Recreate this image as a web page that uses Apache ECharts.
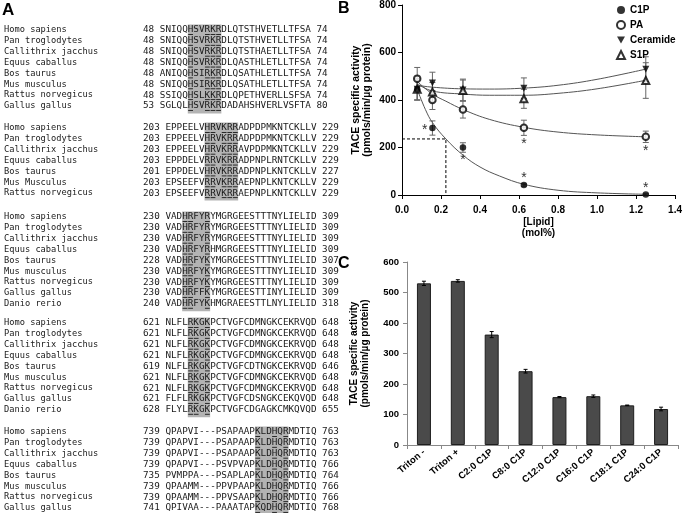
<!DOCTYPE html>
<html><head><meta charset="utf-8">
<script src="https://cdn.jsdelivr.net/npm/echarts@6/dist/echarts.min.js"></script>
<style>html,body{margin:0;padding:0;background:#fff}#c{width:685px;height:513px}</style>
</head><body><div id="c"></div>
<script>
// ---------------- Panel A : alignment data ----------------
const names1 = ['Homo sapiens','Pan troglodytes','Callithrix jacchus','Equus caballus','Bos taurus','Mus musculus','Rattus norvegicus','Gallus gallus'];
const start1 = [48,48,48,48,48,48,48,53];
const seq1 = ['SNIQQHSVRKRDLQTSTHVETLLTFSA','SNIQQHSVRKRDLQTSTHVETLLTFSA','SNIQQHSVRKRDLQTSTHAETLLTFSA','SNIQQHSVRKRDLQASTHLETLLTFSA','ANIQQHSIRKRDLQSATHLETLLTFSA','SNIQQHSIRKRDLQSATHLETLLTFSA','SSIQQHSLKKRDLQPETHVERLLSFSA','SGLQLHSVRKRDADAHSHVERLVSFTA'];
const end1 = [74,74,74,74,74,74,74,80];
const box1 = [5,10]; const ul1 = [5,8,9,10];

const names2 = ['Homo sapiens','Pan troglodytes','Callithrix jacchus','Equus caballus','Bos taurus','Mus Musculus','Rattus norvegicus'];
const start2 = [203,203,203,203,201,203,203];
const seq2 = ['EPPEELVHRVKRRADPDPMKNTCKLLV','EPPEELVHRVKRRADPDPMKNTCKLLV','EPPEELVHRVKRRAVPDPMKNTCKLLV','EPPDELVRRVKRRADPNPLRNTCKLLV','EPPDELVHRVKRRADPNPLKNTCKLLV','EPSEEFVRRVKRRAEPNPLKNTCKLLV','EPSEEFVRRVKRRAEPNPLKNTCKLLV'];
const end2 = [229,229,229,229,227,229,229];
const box2 = [7,12]; const ul2 = [7,8,10,11,12];

const names3 = ['Homo sapiens','Pan troglodytes','Callithrix jacchus','Equus caballus','Bos taurus','Mus musculus','Rattus norvegicus','Gallus gallus','Danio rerio'];
const start3 = [230,230,230,230,228,230,230,230,240];
const seq3 = ['VADHRFYRYMGRGEESTTTNYLIELID','VADHRFYRYMGRGEESTTTNYLIELID','VADHRFYRYMGRGEESTTTNYLIELID','VADHRFYRHMGRGEESTTTNYLIELID','VADHRFYKYMGRGEESTTTNYLIELID','VADHRFYKYMGRGEESTTTNYLIELID','VADHRFYKYMGRGEESTTTNYLIELID','VADHRFFKYMGRGEESTTINYLIELID','VADHRFYKHMGRAEESTTLNYLIELID'];
const end3 = [309,309,309,309,307,309,309,309,318];
const box3 = [3,7]; const ul3 = [3,4,7];

const names4 = ['Homo sapiens','Pan troglodytes','Callithrix jacchus','Equus caballus','Bos taurus','Mus musculus','Rattus norvegicus','Gallus gallus','Danio rerio'];
const start4 = [621,621,621,621,619,621,621,621,628];
const seq4 = ['NLFLRKGKPCTVGFCDMNGKCEKRVQD','NLFLRKGKPCTVGFCDMNGKCEKRVQD','NLFLRKGKPCTVGFCDMNGKCEKRVQD','NLFLRKGKPCTVGFCDMNGKCEKRVQD','NLFLRKGKPCTVGFCDTNGKCEKRVQD','NLFLRKGKPCTVGFCDMNGKCEKRVQD','NLFLRKGKPCTVGFCDMNGKCEKRVQD','FLFLRKGKPCTVGFCDSNGKCEKQVQD','FLYLRKGKPCTVGFCDGAGKCMKQVQD'];
const end4 = [648,648,648,648,646,648,648,648,655];
const box4 = [4,7]; const ul4 = [4,5,7];

const names5 = ['Homo sapiens','Pan troglodytes','Callithrix jacchus','Equus caballus','Bos taurus','Mus musculus','Rattus norvegicus','Gallus gallus'];
const start5 = [739,739,739,739,735,739,739,741];
const seq5 = ['QPAPVI---PSAPAAPKLDHQRMDTIQ','QPAPVI---PSAPAAPKLDHQRMDTIQ','QPAPVI---PSAPAAPKLDHQRMDTIQ','QPAPVI---PSVPVAPKLDHQRMDTIQ','PVMPPA---PSAPLAPKLDHQRMDTIQ','QPAAMM---PPVPAAPKLDHQRMDTIQ','QPAAMM---PPVSAAPKLDHQRMDTIQ','QPIVAA---PAAATAPKQDHQRMDTIQ'];
const end5 = [763,763,763,766,764,766,766,768];
const box5 = [16,21]; const ul5 = [16,19,21];

// ---------------- Panel B data ----------------
const lipidX = [0.078, 0.156, 0.3125, 0.625, 1.25];
const c1pVals = [445, 282, 200, 42, 2];
const c1pErr  = [45, 30, 20, 5, 3];
const paVals  = [490, 400, 360, 283, 245];
const paErr   = [47, 40, 36, 32, 24];
const cerVals = [445, 472, 442, 450, 530];
const cerErr  = [45, 45, 46, 43, 52];
const s1pVals = [445, 434, 440, 405, 482];
const s1pErr  = [45, 40, 44, 40, 75];
// fitted curves
const c1pFitX = [0.078, 0.12, 0.156, 0.225, 0.3125, 0.4, 0.5, 0.625, 0.8, 1.0, 1.25];
const c1pFitY = [445, 360, 305, 236, 168, 118, 80, 45, 20, 9, 3];
const paFitX  = [0.078, 0.156, 0.225, 0.3125, 0.45, 0.625, 0.8, 1.0, 1.25];
const paFitY  = [478, 425, 395, 360, 318, 285, 265, 253, 245];
const cerFitX = [0.078, 0.156, 0.3125, 0.45, 0.625, 0.8, 1.0, 1.25];
const cerFitY = [462, 454, 447, 446, 450, 462, 487, 530];
const s1pFitX = [0.078, 0.156, 0.3125, 0.45, 0.625, 0.8, 1.0, 1.25];
const s1pFitY = [468, 438, 425, 420, 420, 428, 447, 483];
const dashX = [0, 0.225, 0.225];
const dashY = [236, 236, 0];
const starX = [0.117, 0.3125, 0.625, 0.625, 1.25, 1.25];
const starY = [286, 160, 82, 225, 198, 40];
const legendNames = ['C1P', 'PA', 'Ceramide', 'S1P'];

// ---------------- Panel C data ----------------
const cCats = ['Triton -','Triton +','C2:0 C1P','C8:0 C1P','C12:0 C1P','C16:0 C1P','C18:1 C1P','C24:0 C1P'];
const cVals = [530, 538, 362, 242, 157, 160, 130, 118];
const cErr  = [7, 4, 10, 6, 2, 4, 1, 6];

// ---------------- build ----------------
const SANS = '"Liberation Sans", Arial, sans-serif';
const MONO = '"DejaVu Sans Mono", "Liberation Mono", monospace';
const nameFont = '8.7px ' + MONO;
const seqFont = '9.3px ' + MONO;
const mctx = document.createElement('canvas').getContext('2d');
mctx.font = seqFont;
const cw = mctx.measureText('MMMMMMMMMM').width / 10;

const blocks = [
  {n:names1,s:start1,q:seq1,e:end1,b:box1,u:ul1},
  {n:names2,s:start2,q:seq2,e:end2,b:box2,u:ul2},
  {n:names3,s:start3,q:seq3,e:end3,b:box3,u:ul3},
  {n:names4,s:start4,q:seq4,e:end4,b:box4,u:ul4},
  {n:names5,s:start5,q:seq5,e:end5,b:box5,u:ul5}
];
const blockTop = [30, 128, 217, 323, 432];
const rowPitch = 10.85;
const numX = 143;
const gfx = [];
function txt(t, x, y, font, fill, align){
  return {type:'text', silent:true, z:10, style:{text:t, x:x, y:y, font:font, fill:fill||'#1a1a1a',
    align:align||'left', verticalAlign:'middle', textAlign:align||'left', textVerticalAlign:'middle'}};
}
blocks.forEach((b, bi) => {
  const seqX = numX + (String(b.s[0]).length + 1) * cw;
  const y0 = blockTop[bi];
  const yN = y0 + (b.n.length - 1) * rowPitch;
  gfx.push({type:'rect', silent:true, z:1, shape:{x:seqX + b.b[0]*cw, y:y0 - 5.5, width:(b.b[1]-b.b[0]+1)*cw, height:yN - y0 + 13},
    style:{fill:'#b3b3b3'}});
  b.n.forEach((nm, i) => {
    const y = y0 + i * rowPitch;
    gfx.push(txt(nm, 4, y, nameFont));
    gfx.push(txt(b.s[i] + ' ' + b.q[i] + ' ' + b.e[i], numX, y, seqFont));
    b.u.forEach(k => {
      gfx.push({type:'line', silent:true, z:11, shape:{x1:seqX + k*cw + 0.4, y1:y + 4.5, x2:seqX + (k+1)*cw - 0.4, y2:y + 4.5},
        style:{stroke:'#1a1a1a', lineWidth:0.9}});
    });
  });
});
gfx.push(txt('A', 2, 10, 'bold 17px ' + SANS, '#000'));
gfx.push(txt('B', 338, 9, 'bold 16px ' + SANS, '#000'));
gfx.push(txt('C', 338, 264, 'bold 16px ' + SANS, '#000'));

const zip = (xs, ys) => xs.map((x, i) => [x, ys[i]]);
const errData = (xs, ys, es) => xs.map((x, i) => [x, ys[i] - es[i], ys[i] + es[i]]);

function errRender(color, cap){
  return function(params, api){
    const x = api.value(0), lo = api.value(1), hi = api.value(2);
    const p1 = api.coord([x, lo]), p2 = api.coord([x, hi]);
    const st = {stroke:color, lineWidth:1};
    return {type:'group', children:[
      {type:'line', shape:{x1:p1[0], y1:p1[1], x2:p2[0], y2:p2[1]}, style:st},
      {type:'line', shape:{x1:p1[0]-cap, y1:p1[1], x2:p1[0]+cap, y2:p1[1]}, style:st},
      {type:'line', shape:{x1:p2[0]-cap, y1:p2[1], x2:p2[0]+cap, y2:p2[1]}, style:st}
    ]};
  };
}
const fitLine = (name, xs, ys) => ({name:name, type:'line', xAxisIndex:0, yAxisIndex:0, data:zip(xs, ys), smooth:0.4,
  showSymbol:false, symbol:'none', silent:true, z:2, lineStyle:{color:'#555', width:1}});

const labelB = {color:'#000', fontFamily:SANS, fontWeight:'bold', fontSize:10};
const labelC = {color:'#000', fontFamily:SANS, fontWeight:'bold', fontSize:9.5};
const downTri = 'path://M0,0 L10,0 L5,9 Z';

const option = {
  animation:false,
  backgroundColor:'#fff',
  graphic:{elements:gfx},
  legend:{
    data:[
      {name:legendNames[0], icon:'circle'},
      {name:legendNames[1], icon:'emptyCircle'},
      {name:legendNames[2], icon:downTri},
      {name:legendNames[3], icon:'emptyTriangle'}
    ],
    orient:'vertical', left:616, top:5, itemWidth:8, itemHeight:8, itemGap:5,
    itemStyle:{borderWidth:1},
    padding:0, textStyle:{color:'#000', fontFamily:SANS, fontWeight:'bold', fontSize:10}
  },
  grid:[
    {left:402, top:5, width:275, height:190},
    {left:407, top:262, width:271, height:183}
  ],
  xAxis:[
    {type:'value', gridIndex:0, min:0, max:1.4, interval:0.2,
      axisLine:{show:true, lineStyle:{color:'#000', width:1}}, axisTick:{show:true, length:4, lineStyle:{color:'#000'}},
      splitLine:{show:false}, axisLabel:Object.assign({margin:10, formatter:v => v.toFixed(1)}, labelB),
      name:'[Lipid]\n(mol%)', nameLocation:'middle', nameGap:22,
      nameTextStyle:{color:'#000', fontFamily:SANS, fontWeight:'bold', fontSize:10, lineHeight:11}},
    {type:'category', gridIndex:1, data:cCats,
      axisLine:{show:true, lineStyle:{color:'#888', width:1}}, axisTick:{show:true, length:4, alignWithLabel:false, lineStyle:{color:'#888'}},
      axisLabel:Object.assign({rotate:40, interval:0, margin:6}, labelC)}
  ],
  yAxis:[
    {type:'value', gridIndex:0, min:0, max:800, interval:200,
      axisLine:{show:true, lineStyle:{color:'#000', width:1}}, axisTick:{show:true, length:4, lineStyle:{color:'#000'}},
      splitLine:{show:false}, axisLabel:Object.assign({margin:6}, labelB),
      name:'TACE specific activity\n(pmols/min/\u00b5g protein)', nameLocation:'middle', nameGap:29, nameRotate:90,
      nameTextStyle:{color:'#000', fontFamily:SANS, fontWeight:'bold', fontSize:10.5, lineHeight:11}},
    {type:'value', gridIndex:1, min:0, max:600, interval:100,
      axisLine:{show:true, lineStyle:{color:'#888', width:1}}, axisTick:{show:true, length:4, lineStyle:{color:'#888'}},
      splitLine:{show:false}, axisLabel:Object.assign({margin:8}, labelC),
      name:'TACE specific activity\n(pmols/min/\u00b5g protein)', nameLocation:'middle', nameGap:36, nameRotate:90,
      nameTextStyle:{color:'#000', fontFamily:SANS, fontWeight:'bold', fontSize:10, lineHeight:11}}
  ],
  series:[
    fitLine('C1P fit', c1pFitX, c1pFitY),
    fitLine('PA fit', paFitX, paFitY),
    fitLine('Ceramide fit', cerFitX, cerFitY),
    fitLine('S1P fit', s1pFitX, s1pFitY),
    {name:'IC50', type:'line', xAxisIndex:0, yAxisIndex:0, data:zip(dashX, dashY), symbol:'none', silent:true, z:2,
      lineStyle:{color:'#000', width:1, type:[3,2]}},
    {name:'errB', type:'custom', xAxisIndex:0, yAxisIndex:0, silent:true, z:3, renderItem:errRender('#666', 3),
      data:[].concat(errData(lipidX, c1pVals, c1pErr), errData(lipidX, paVals, paErr), errData(lipidX, cerVals, cerErr), errData(lipidX, s1pVals, s1pErr))},
    {name:legendNames[0], type:'scatter', xAxisIndex:0, yAxisIndex:0, data:zip(lipidX, c1pVals), symbol:'circle', symbolSize:6.5, z:6,
      itemStyle:{color:'#000'}},
    {name:legendNames[1], type:'scatter', xAxisIndex:0, yAxisIndex:0, data:zip(lipidX, paVals), symbol:'emptyCircle', symbolSize:6.5, z:5,
      itemStyle:{color:'#000', borderWidth:1}},
    {name:legendNames[2], type:'scatter', xAxisIndex:0, yAxisIndex:0, data:zip(lipidX, cerVals), symbol:'triangle', symbolRotate:180, symbolSize:7, z:5,
      itemStyle:{color:'#000'}},
    {name:legendNames[3], type:'scatter', xAxisIndex:0, yAxisIndex:0, data:zip(lipidX, s1pVals), symbol:'emptyTriangle', symbolSize:7, z:5,
      itemStyle:{color:'#000', borderWidth:1}},
    {name:'stars', type:'custom', xAxisIndex:0, yAxisIndex:0, silent:true, z:6, data:zip(starX, starY),
      renderItem:function(params, api){
        const p = api.coord([api.value(0), api.value(1)]);
        return {type:'text', style:{text:'*', x:p[0], y:p[1] + 3, font:'14px ' + SANS, fill:'#333',
          align:'center', verticalAlign:'middle', textAlign:'center', textVerticalAlign:'middle'}};
      }},
    {name:'activity', type:'bar', xAxisIndex:1, yAxisIndex:1, data:cVals, barWidth:14, z:2,
      itemStyle:{color:'#4a4a4a', borderColor:'#1e1e1e', borderWidth:1}},
    {name:'errC', type:'custom', xAxisIndex:1, yAxisIndex:1, silent:true, z:4, renderItem:errRender('#000', 2),
      data:cVals.map((v, i) => [i, v - cErr[i], v + cErr[i]])}
  ]
};
const chart = echarts.init(document.getElementById('c'), null, {renderer:'canvas'});
chart.setOption(option);
</script></body></html>
